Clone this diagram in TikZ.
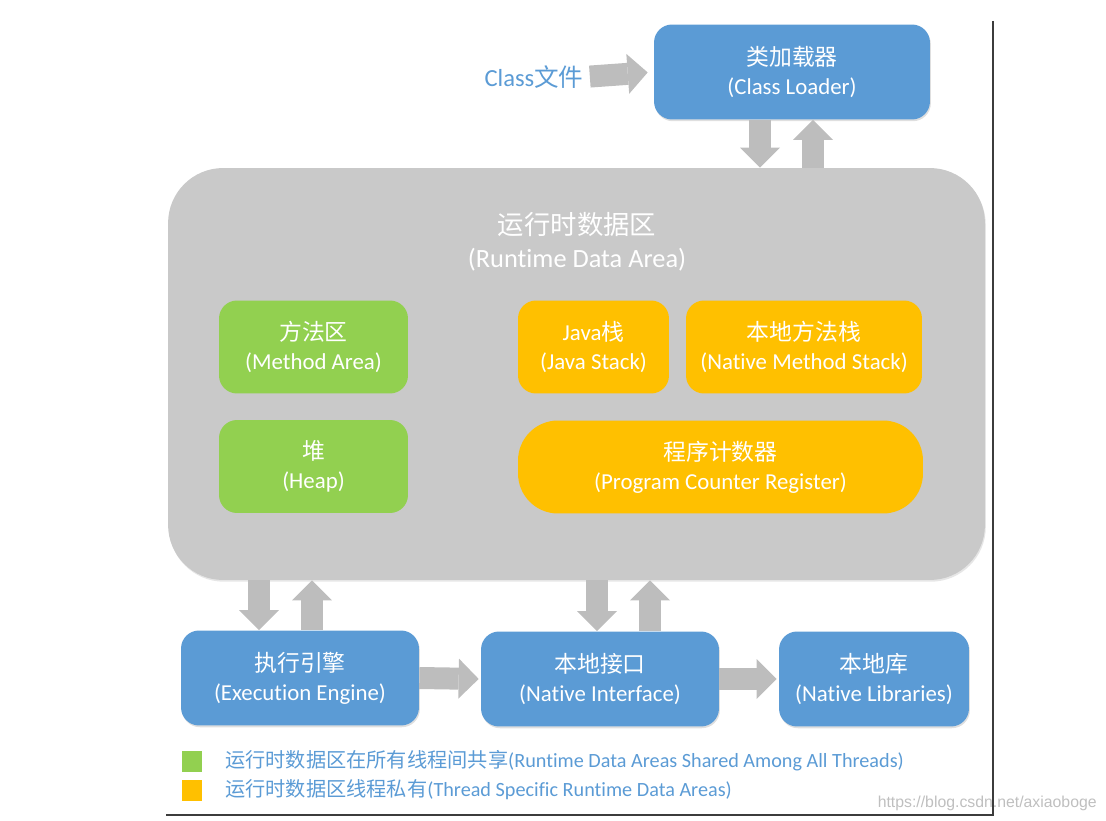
\documentclass[tikz,border=0pt]{standalone}
\usepackage{fontspec}
\setmainfont{Carlito}[Ligatures=NoCommon]
\newfontfamily\cjk{Noto Sans CJK SC}
\newfontfamily\webfont{Liberation Sans}
\usetikzlibrary{arrows.meta,shadows}

\definecolor{jvmblue}{RGB}{91,155,213}
\definecolor{jvmgreen}{RGB}{146,208,80}
\definecolor{jvmgold}{RGB}{255,192,0}
\definecolor{rdagray}{RGB}{201,201,201}
\definecolor{arrowgray}{RGB}{189,189,189}
\definecolor{framegray}{RGB}{60,60,60}

\newcommand{\zh}[1]{{\cjk #1}}

\tikzset{
  area/.style={rounded corners=0.36cm, minimum height=1.86cm, inner sep=0pt,
    align=center, text=white, font=\fontsize{13}{16.5}\selectfont},
  bluebox/.style={area, fill=jvmblue, minimum height=1.9cm,
    drop shadow={shadow xshift=0.5pt, shadow yshift=-1pt, opacity=0.25}},
  greenbox/.style={area, fill=jvmgreen},
  goldbox/.style={area, fill=jvmgold},
  fatarrow/.style={draw=arrowgray, line width=0.44cm,
    -{Triangle[width=0.8cm,length=0.4cm,line width=0pt]}},
  legendsquare/.style={minimum size=0.42cm, inner sep=0pt},
  legendtext/.style={anchor=west, inner sep=0pt, text=jvmblue,
    font=\fontsize{11.5}{13}\selectfont},
}

\begin{document}
\begin{tikzpicture}[x=0.02cm, y=-0.02cm]
  \useasboundingbox (0,0) rectangle (1106,821);

  % Drawing frame lines
  \draw [framegray, line width=1.5pt] (993,21) -- (993,815) -- (166,815);%

  % Drawing runtime data area
  \node [fill=rdagray, rounded corners=1.1cm, minimum width=16.34cm,
    minimum height=8.24cm, inner sep=0pt,
    drop shadow={shadow xshift=0.5pt, shadow yshift=-1pt, opacity=0.2}]
    (rda) at (576.5,374) {};%
  \node [text=white, font=\fontsize{15}{18.7}\selectfont, align=center]
    (rdatitle) at (577,242) {\zh{运行时数据区}\\(Runtime Data Area)};%

  % Drawing class loader
  \node [bluebox, minimum width=5.52cm] (loader) at (792,72)
    {\zh{类加载器}\\(Class Loader)};%

  % Marking class file
  \node [text=jvmblue, font=\fontsize{14}{16}\selectfont, inner sep=0pt]
    (classfile) at (534,77) {Class\zh{文件}};%

  % Drawing shared areas
  \node [greenbox, minimum width=3.78cm] (method) at (313.5,347)
    {\zh{方法区}\\(Method Area)};%
  \node [greenbox, minimum width=3.78cm] (heap) at (313.5,466.5)
    {\zh{堆}\\(Heap)};%

  % Drawing thread specific areas
  \node [goldbox, minimum width=3.02cm] (jstack) at (593.5,347)
    {Java\zh{栈}\\(Java Stack)};%
  \node [goldbox, minimum width=4.72cm] (nstack) at (804,347)
    {\zh{本地方法栈}\\(Native Method Stack)};%
  \node [goldbox, minimum width=8.1cm, rounded corners=0.8cm] (pc) at (720.5,467)
    {\zh{程序计数器}\\(Program Counter Register)};%

  % Drawing bottom boxes
  \node [bluebox, minimum width=4.76cm] (engine) at (300,678)
    {\zh{执行引擎}\\(Execution Engine)};%
  \node [bluebox, minimum width=4.76cm] (native) at (600,679)
    {\zh{本地接口}\\(Native Interface)};%
  \node [bluebox, minimum width=3.8cm] (libs) at (874,679)
    {\zh{本地库}\\(Native Libraries)};%

  % Drawing arrows
  \draw [fatarrow, shorten <=0.12cm, shorten >=0.12cm] (classfile.east) -- (loader.west);%
  \draw [fatarrow] (loader.south -| 760,0) -- (rda.north -| 760,0);%
  \draw [fatarrow] (rda.north -| 813,0) -- (loader.south -| 813,0);%
  \draw [fatarrow] (rda.south -| 259,0) -- (engine.north -| 259,0);%
  \draw [fatarrow] (engine.north -| 312,0) -- (rda.south -| 312,0);%
  \draw [fatarrow] (rda.south -| 597,0) -- (native.north -| 597,0);%
  \draw [fatarrow] (native.north -| 650,0) -- (rda.south -| 650,0);%
  \draw [fatarrow, shorten >=0.04cm] (engine.east) -- (native.west);%
  \draw [fatarrow, shorten >=0.04cm] (native.east) -- (libs.west);%

  % Marking legend
  \node [legendsquare, fill=jvmgreen] (sharedkey) at (192,761) {};%
  \node [legendsquare, fill=jvmgold] (privatekey) at (192,790) {};%
  \node [legendtext] (sharedtext) at (225,761)
    {\zh{运行时数据区在所有线程间共享}(Runtime Data Areas Shared Among All Threads)};%
  \node [legendtext] (privatetext) at (225,790)
    {\zh{运行时数据区线程私有}(Thread Specific Runtime Data Areas)};%

  % Marking watermark
  \node [anchor=east, inner sep=0pt, text=black!25, font=\webfont\fontsize{9}{11}\selectfont]
    (mark) at (1097,803) {https://blog.csdn.net/axiaoboge};%
\end{tikzpicture}
\end{document}
